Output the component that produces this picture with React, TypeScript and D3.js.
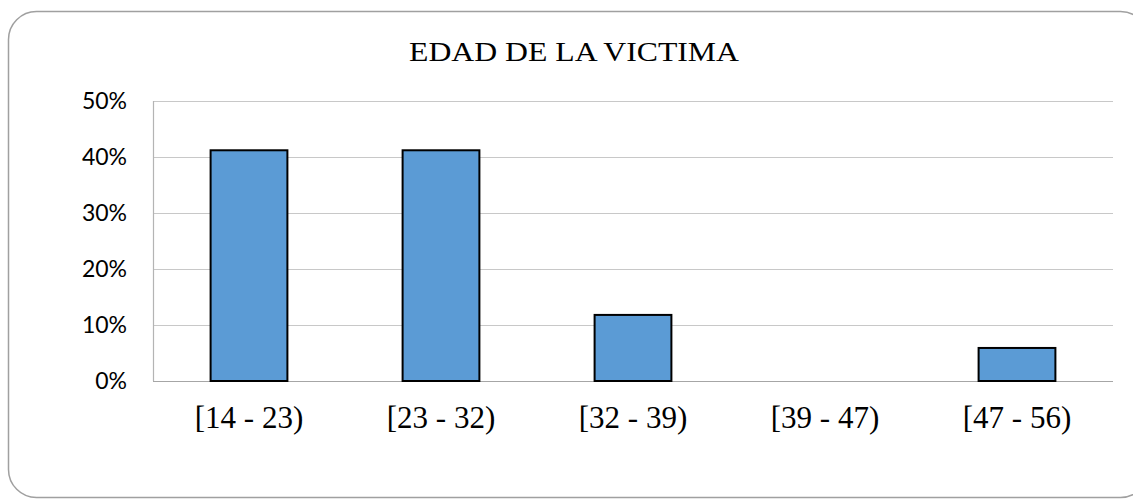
// Bar chart: age of victim, share per age bracket. Excel-like look.
import { useEffect, useRef } from "react";
import * as d3 from "d3";

const CATEGORIES = ["[14 - 23)", "[23 - 32)", "[32 - 39)", "[39 - 47)", "[47 - 56)"];
const VALUES = [0.412, 0.412, 0.118, 0, 0.059];
const Y_TICKS = [0, 0.1, 0.2, 0.3, 0.4, 0.5];
const TITLE = "EDAD DE LA VICTIMA";

const W = 1133;
const H = 502;

export default function App() {
  const ref = useRef<SVGSVGElement>(null);

  useEffect(() => {
    const svgEl = ref.current;
    if (!svgEl) return;
    document.body.style.margin = "0";
    const svg = d3.select(svgEl);
    svg.selectAll("*").remove();

    const plot = { left: 153, right: 1113, top: 101, bottom: 381 };

    // frame (right edge runs past the page)
    svg
      .append("rect")
      .attr("x", 8.5)
      .attr("y", 11.5)
      .attr("width", 1140)
      .attr("height", 486)
      .attr("rx", 28)
      .attr("fill", "#fff")
      .attr("stroke", "#a0a0a0")
      .attr("stroke-width", 1.5);

    const x = d3
      .scaleBand<string>()
      .domain(CATEGORIES)
      .range([plot.left, plot.right])
      .paddingInner(0.6)
      .paddingOuter(0.3);
    const y = d3.scaleLinear().domain([0, 0.5]).range([plot.bottom, plot.top]);

    // gridlines
    svg
      .append("g")
      .selectAll("line")
      .data(Y_TICKS)
      .join("line")
      .attr("x1", plot.left)
      .attr("x2", plot.right)
      .attr("y1", (d) => Math.round(y(d)) + 0.5)
      .attr("y2", (d) => Math.round(y(d)) + 0.5)
      .attr("stroke", (d) => (d === 0 ? "#a6a6a6" : "#c8c8c8"))
      .attr("stroke-width", 1.2);

    // vertical axis line
    svg
      .append("line")
      .attr("x1", plot.left + 0.5)
      .attr("x2", plot.left + 0.5)
      .attr("y1", plot.top)
      .attr("y2", plot.bottom)
      .attr("stroke", "#b4b4b4")
      .attr("stroke-width", 1.2);

    // y labels
    svg
      .append("g")
      .selectAll("text")
      .data(Y_TICKS)
      .join("text")
      .attr("x", 127)
      .attr("y", (d) => y(d))
      .attr("dy", "0.36em")
      .attr("text-anchor", "end")
      .attr("font-family", "Lato, 'Liberation Sans', sans-serif")
      .attr("font-size", 23)
      .attr("fill", "#000")
      .text((d) => d3.format(".0%")(d));

    // bars
    svg
      .append("g")
      .selectAll("rect")
      .data(VALUES.map((v, i) => ({ v, c: CATEGORIES[i] })).filter((d) => d.v > 0))
      .join("rect")
      .attr("x", (d) => x(d.c)!)
      .attr("width", x.bandwidth())
      .attr("y", (d) => y(d.v))
      .attr("height", (d) => y(0) - y(d.v))
      .attr("fill", "#5b9bd5")
      .attr("stroke", "#000")
      .attr("stroke-width", 2);

    // x labels
    svg
      .append("g")
      .selectAll("text")
      .data(CATEGORIES)
      .join("text")
      .attr("x", (d) => x(d)! + x.bandwidth() / 2)
      .attr("y", 428)
      .attr("text-anchor", "middle")
      .attr("font-family", "'Liberation Serif', 'Times New Roman', serif")
      .attr("font-size", 31)
      .attr("fill", "#000")
      .text((d) => d);

    // title
    svg
      .append("text")
      .attr("x", 574)
      .attr("y", 61)
      .attr("text-anchor", "middle")
      .attr("font-family", "'Liberation Serif', 'Times New Roman', serif")
      .attr("font-size", 28)
      .attr("textLength", 330)
      .attr("lengthAdjust", "spacingAndGlyphs")
      .attr("fill", "#000")
      .text(TITLE);
  }, []);

  return (
    <svg
      ref={ref}
      width={W}
      height={H}
      viewBox={`0 0 ${W} ${H}`}
      style={{ position: "absolute", left: 0, top: 0, display: "block" }}
    />
  );
}
